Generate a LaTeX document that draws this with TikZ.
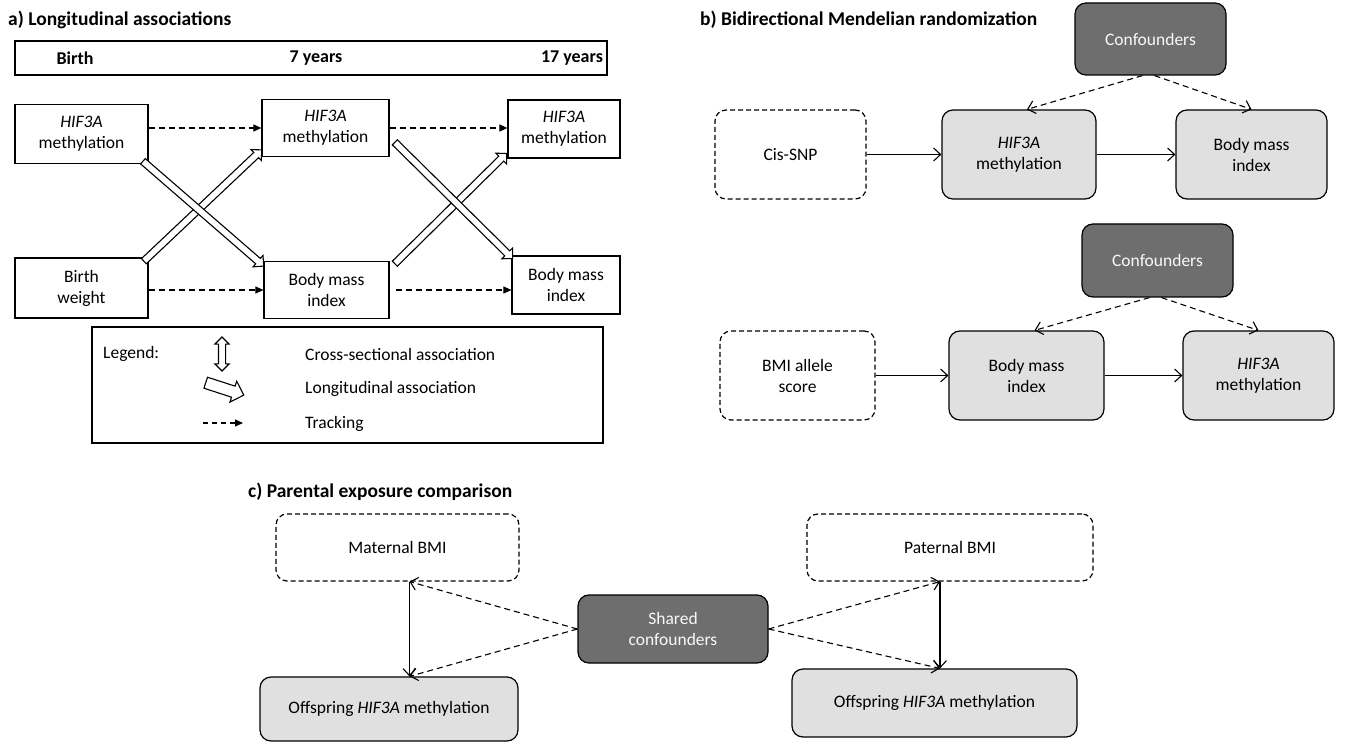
\documentclass[tikz,border=0pt]{standalone}
\usepackage{fontspec}
\setmainfont{Carlito}
\usetikzlibrary{arrows.meta,shapes.arrows,calc}
\definecolor{darkbox}{RGB}{110,110,110}
\definecolor{lightbox}{RGB}{224,224,224}
\tikzset{
  txt/.style={font=\fontsize{17.5}{21}\selectfont, align=center, inner sep=0pt},
  ttl/.style={font=\fontsize{19.5}{23}\selectfont\bfseries, inner sep=0pt},
  hdt/.style={font=\fontsize{18}{22}\selectfont\bfseries, inner sep=0pt},
  sqbox/.style={txt, draw, line width=1.2pt},
  rbox/.style={txt, draw, line width=1.2pt, rounded corners=11pt, fill=lightbox},
  dbox/.style={rbox, fill=none, dash pattern=on 5pt off 3pt},
  cbox/.style={rbox, fill=darkbox, text=white!95!gray},
  track/.style={line width=1.1pt, dash pattern=on 6pt off 4pt, -{Triangle[length=8pt,width=7pt]}},
  blockarr/.style={draw, line width=1.1pt, fill=white, single arrow, single arrow head extend=4pt, minimum width=14, inner sep=3pt},
  solarr/.style={line width=1.1pt, -{Straight Barb[length=7pt,width=13pt]}},
  dasharr/.style={line width=1.1pt, dash pattern=on 6pt off 4pt, -{Straight Barb[length=7pt,width=13pt]}}
}
% hollow block arrow between two points
\newcommand{\blockarr}[3]{\path let \p1=($(#2)-(#1)$) in node[blockarr, rotate={atan2(\y1,\x1)}, minimum height={veclen(\x1,\y1)}] (#3) at ($(#1)!0.5!(#2)$) {};}
\begin{document}
\begin{tikzpicture}[x=1pt,y=-1pt]
\useasboundingbox (0,0) rectangle (1347,743);
% a) longitudinal associations
\node[ttl, anchor=west] (ta) at (8,20) {a) Longitudinal associations};
\node[sqbox, minimum width=592, minimum height=34] (hdr) at (311,58) {};
\node[hdt] (tb) at (75,58) {Birth};
\node[hdt] (t7) at (316,58) {7 years};
\node[hdt] (t17) at (572,58) {17 years};
\node[sqbox, minimum width=133, minimum height=59] (m0) at (81.5,134) {\textit{HIF3A}\\methylation};
\node[sqbox, minimum width=127, minimum height=57] (m7) at (325.5,128) {\textit{HIF3A}\\methylation};
\node[sqbox, minimum width=112, minimum height=58] (m17) at (564,129) {\textit{HIF3A}\\methylation};
\node[sqbox, minimum width=133, minimum height=60] (w0) at (81.5,288) {Birth\\weight};
\node[sqbox, minimum width=125, minimum height=57] (b7) at (326.5,290) {Body mass\\index};
\node[sqbox, minimum width=108, minimum height=58] (b17) at (566,285) {Body mass\\index};
\draw[track] (m0.east |- m7) -- (m7.west);
\draw[track] (m7.east) -- (m17.west |- m7);
\draw[track] (w0.east |- b7) -- (b7.west);
\draw[track] ([xshift=6]b7.east) -- (b17.west |- b7);
\coordinate (x1s) at ([xshift=-7,yshift=4]m0.south east);
\coordinate (x1e) at ([xshift=-1,yshift=-4]b7.north west);
\coordinate (x2s) at ([xshift=-6,yshift=-5]w0.north east);
\coordinate (x2e) at ([xshift=-1,yshift=6]m7.south west);
\coordinate (x3s) at ([xshift=4,yshift=16]m7.south east);
\coordinate (x3e) at ([xshift=0,yshift=-2]b17.north west);
\coordinate (x4s) at ([xshift=4,yshift=-4]b7.north east);
\coordinate (x4e) at ([xshift=-2,yshift=4]m17.south west);
\blockarr{x2s}{x2e}{xb}
\blockarr{x1s}{x1e}{xa}
\blockarr{x4s}{x4e}{xd}
\blockarr{x3s}{x3e}{xc}
% legend
\node[sqbox, minimum width=511, minimum height=116] (lg) at (347.5,385) {};
\node[txt, anchor=west] (lgt) at (103,354) {Legend:};
\node[draw, line width=1.1pt, double arrow, double arrow head extend=3.5pt, minimum width=14, minimum height=34, inner sep=3pt, rotate=90] (lc) at (222,354) {};
\node[draw, line width=1.1pt, single arrow, single arrow head extend=5pt, minimum height=40, minimum width=22, inner sep=5pt, rotate=-18] (la) at (222,388) {};
\coordinate (d1) at (203,423);
\coordinate (d2) at (243,423);
\draw[track, dash pattern=on 5pt off 4pt] (d1) -- (d2);
\node[txt, anchor=west] (l1) at (305,354) {Cross-sectional association};
\node[txt, anchor=west] (l2) at (305,389) {Longitudinal association};
\node[txt, anchor=west] (l3) at (305,424) {Tracking};
% b) bidirectional MR
\node[ttl, anchor=west] (tbb) at (700,20) {b) Bidirectional Mendelian randomization};
\node[cbox, minimum width=151, minimum height=72] (conf1) at (1150.5,39) {Confounders};
\node[dbox, minimum width=151, minimum height=89] (cis) at (790.5,154.5) {Cis-SNP};
\node[rbox, minimum width=154, minimum height=89] (hif1) at (1019,154.5) {\textit{HIF3A}\\methylation};
\node[rbox, minimum width=151, minimum height=89] (bmi1) at (1251.5,154.5) {Body mass\\index};
\draw[solarr] (cis.east) -- (hif1.west);
\draw[solarr] (hif1.east) -- (bmi1.west);
\draw[dasharr] ([xshift=-8]conf1.south) -- ([xshift=8]hif1.north);
\draw[dasharr] ([xshift=4]conf1.south) -- (bmi1.north);
\node[cbox, minimum width=151, minimum height=73] (conf2) at (1157.5,260.5) {Confounders};
\node[dbox, minimum width=155, minimum height=89] (allele) at (797.5,375.5) {BMI allele\\score};
\node[rbox, minimum width=155, minimum height=89] (bmi2) at (1026.5,375.5) {Body mass\\index};
\node[rbox, minimum width=151, minimum height=89] (hif2) at (1258.5,375.5) {\textit{HIF3A}\\methylation};
\draw[solarr] (allele.east) -- (bmi2.west);
\draw[solarr] (bmi2.east) -- (hif2.west);
\draw[dasharr] ([xshift=-8]conf2.south) -- ([xshift=8]bmi2.north);
\draw[dasharr] ([xshift=4]conf2.south) -- (hif2.north);
% c) parental exposure comparison
\node[ttl, anchor=west] (tc) at (248,492) {c) Parental exposure comparison};
\node[dbox, minimum width=243, minimum height=67] (mat) at (397.5,547.5) {Maternal BMI};
\node[dbox, minimum width=286, minimum height=67] (pat) at (950,547.5) {Paternal BMI};
\node[cbox, minimum width=190, minimum height=68] (shared) at (673,629) {Shared\\confounders};
\node[rbox, minimum width=258, minimum height=64] (off1) at (389,709) {Offspring \textit{HIF3A} methylation};
\node[rbox, minimum width=285, minimum height=68] (off2) at (934.5,703) {Offspring \textit{HIF3A} methylation};
\draw[solarr] ([xshift=12]mat.south) -- ([xshift=12]mat.south |- off1.north);
\draw[dasharr] (shared.west) -- ([xshift=12]mat.south);
\draw[dasharr] (shared.west) -- ([xshift=12]mat.south |- off1.north);
\draw[solarr] ([xshift=-10]pat.south) -- ([xshift=-10]pat.south |- off2.north);
\draw[dasharr] (shared.east) -- ([xshift=-10]pat.south);
\draw[dasharr] (shared.east) -- ([xshift=-10]pat.south |- off2.north);
\end{tikzpicture}
\end{document}
